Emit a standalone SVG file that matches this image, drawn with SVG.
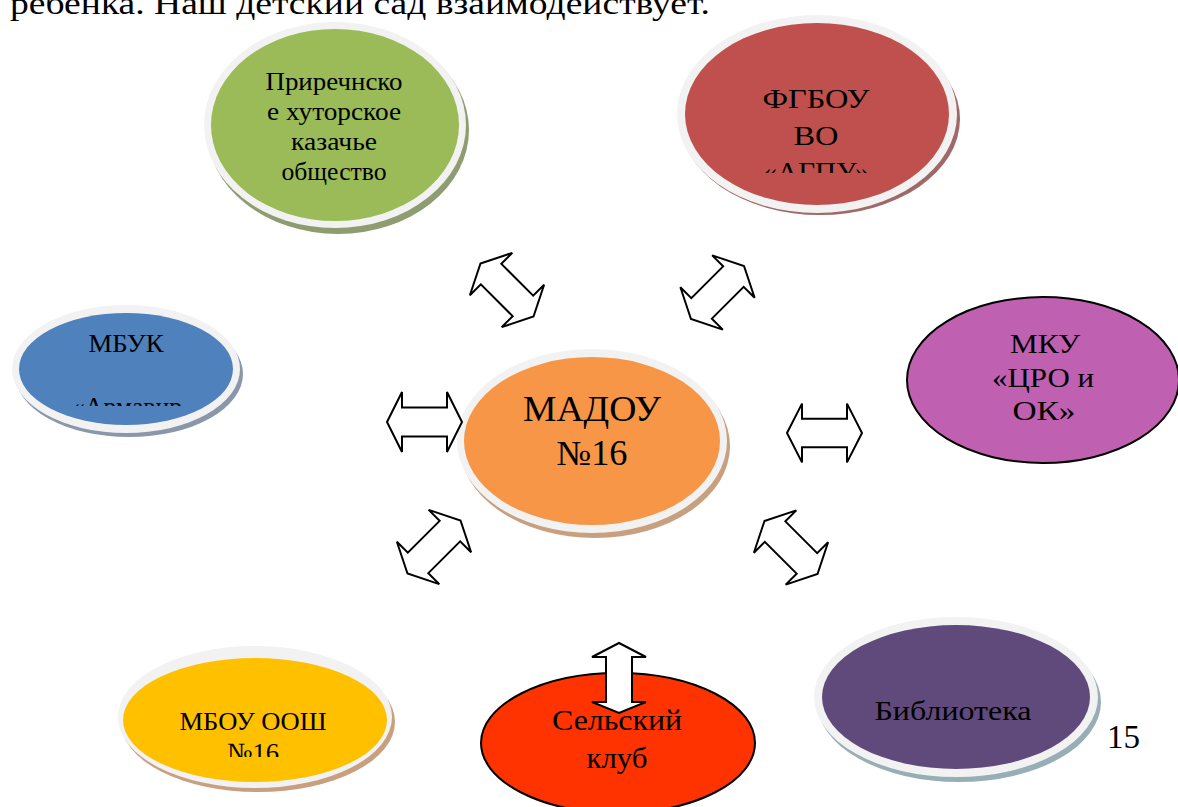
<svg xmlns="http://www.w3.org/2000/svg" xmlns:xlink="http://www.w3.org/1999/xlink" width="1178" height="807" viewBox="0 0 1178 807">
<style>
  text { font-family: "Liberation Serif", "DejaVu Serif", "Times New Roman", serif; fill: #000; text-anchor: middle; }
  .rim { fill: #F2F2F2; }
  .arrow { fill: #FFFFFF; stroke: #000; stroke-width: 2; stroke-linejoin: miter; }
  .plain { stroke: #000; stroke-width: 2; }
</style>
<defs>
  <path id="dbl" d="M-37.5,0 L-22.5,-30 L-22.5,-14.5 L22.5,-14.5 L22.5,-30 L37.5,0 L22.5,30 L22.5,14.5 L-22.5,14.5 L-22.5,30 Z"/>
  <clipPath id="clipRed"><rect x="600" y="0" width="400" height="173"/></clipPath>
  <clipPath id="clipBlue"><rect x="0" y="300" width="260" height="106"/></clipPath>
  <clipPath id="clipYellow"><rect x="100" y="640" width="320" height="117"/></clipPath>
</defs>
<rect width="1178" height="807" fill="#FFFFFF"/>
<text x="10" y="14" font-size="32" style="text-anchor:start" textLength="700" lengthAdjust="spacingAndGlyphs">ребенка. Наш детский сад взаимодействует.</text>

<g id="node-green">
  <ellipse cx="338" cy="130" rx="131" ry="104" fill="#8E9C70"/>
  <ellipse class="rim" cx="335" cy="125" rx="131" ry="103"/>
  <ellipse cx="335" cy="125" rx="124" ry="96" fill="#9BBB59"/>
  <text font-size="26" x="334" y="90" textLength="137" lengthAdjust="spacingAndGlyphs">Приречнско</text>
  <text font-size="26" x="334" y="120" textLength="134" lengthAdjust="spacingAndGlyphs">е хуторское</text>
  <text font-size="26" x="334" y="150" textLength="86" lengthAdjust="spacingAndGlyphs">казачье</text>
  <text font-size="26" x="334" y="180" textLength="105" lengthAdjust="spacingAndGlyphs">общество</text>
</g>

<g id="node-red">
  <ellipse cx="820" cy="119" rx="140" ry="96" fill="#A06868"/>
  <ellipse class="rim" cx="817" cy="114" rx="140" ry="99"/>
  <ellipse cx="817" cy="114" rx="132" ry="91" fill="#C0504D"/>
  <g clip-path="url(#clipRed)">
    <text font-size="28" x="816" y="108" textLength="107" lengthAdjust="spacingAndGlyphs">ФГБОУ</text>
    <text font-size="28" x="816" y="145" textLength="45" lengthAdjust="spacingAndGlyphs">ВО</text>
    <text font-size="28" x="816" y="181" textLength="107" lengthAdjust="spacingAndGlyphs">«АГПУ»</text>
  </g>
</g>

<g id="node-blue">
  <ellipse cx="129" cy="374" rx="114" ry="63" fill="#8A96AA"/>
  <ellipse class="rim" cx="126" cy="369" rx="114" ry="64"/>
  <ellipse cx="126" cy="369" rx="107" ry="56" fill="#4F81BD"/>
  <g clip-path="url(#clipBlue)">
    <text font-size="25" x="126" y="352" textLength="75" lengthAdjust="spacingAndGlyphs">МБУК</text>
    <text font-size="25" x="127" y="415" textLength="110" lengthAdjust="spacingAndGlyphs">«Армавир</text>
  </g>
</g>

<g id="node-center">
  <ellipse cx="595" cy="446" rx="135" ry="92" fill="#C8A080"/>
  <ellipse class="rim" cx="592" cy="441" rx="135" ry="92"/>
  <ellipse cx="592" cy="441" rx="128" ry="84" fill="#F79646"/>
  <text font-size="35" x="592" y="421" textLength="138" lengthAdjust="spacingAndGlyphs">МАДОУ</text>
  <text font-size="35" x="592" y="465" textLength="71" lengthAdjust="spacingAndGlyphs">№16</text>
</g>

<g id="node-mku">
  <ellipse class="plain" cx="1043" cy="380" rx="136" ry="83" fill="#C060B0"/>
  <text font-size="27" x="1045" y="353" textLength="70" lengthAdjust="spacingAndGlyphs">МКУ</text>
  <text font-size="27" x="1043" y="387" textLength="102" lengthAdjust="spacingAndGlyphs">«ЦРО и</text>
  <text font-size="27" x="1044" y="420" textLength="63" lengthAdjust="spacingAndGlyphs">ОК»</text>
</g>

<g id="node-yellow">
  <ellipse cx="258" cy="722" rx="137" ry="70" fill="#C8A080"/>
  <ellipse class="rim" cx="255" cy="717" rx="137" ry="71"/>
  <ellipse cx="255" cy="720" rx="132" ry="62" fill="#FFC000"/>
  <g clip-path="url(#clipYellow)">
    <text font-size="26" x="253" y="730" textLength="147" lengthAdjust="spacingAndGlyphs">МБОУ ООШ</text>
    <text font-size="26" x="253" y="761" textLength="52" lengthAdjust="spacingAndGlyphs">№16</text>
  </g>
</g>

<g id="node-library">
  <ellipse cx="959" cy="702" rx="142" ry="80" fill="#98AEB6"/>
  <ellipse class="rim" cx="956" cy="697" rx="142" ry="80"/>
  <ellipse cx="956" cy="697" rx="134" ry="72" fill="#604A7B"/>
  <text font-size="28" x="953" y="720" textLength="157" lengthAdjust="spacingAndGlyphs">Библиотека</text>
</g>

<g id="node-klub">
  <ellipse class="plain" cx="618" cy="743" rx="137" ry="70" fill="#FF3300"/>
  <text font-size="29" x="617" y="730" textLength="130" lengthAdjust="spacingAndGlyphs">Сельский</text>
  <text font-size="29" x="617" y="768" textLength="61" lengthAdjust="spacingAndGlyphs">клуб</text>
</g>

<text x="1107" y="748" font-size="33" style="text-anchor:start">15</text>

<g id="connectors">
  <use xlink:href="#dbl" class="arrow" transform="translate(424.5,422)"/>
  <use xlink:href="#dbl" class="arrow" transform="translate(824.5,433) scale(1,0.98)"/>
  <use xlink:href="#dbl" class="arrow" transform="translate(507,290) rotate(45)"/>
  <use xlink:href="#dbl" class="arrow" transform="translate(717.5,292.5) rotate(-45)"/>
  <use xlink:href="#dbl" class="arrow" transform="translate(434,547) rotate(-45)"/>
  <use xlink:href="#dbl" class="arrow" transform="translate(791,547.5) rotate(45)"/>
  <path class="arrow" d="M619,643 L646,657 L632,657 L632,702 L646,702 L619,713 L592,702 L606,702 L606,657 L592,657 Z"/>
</g>
</svg>
